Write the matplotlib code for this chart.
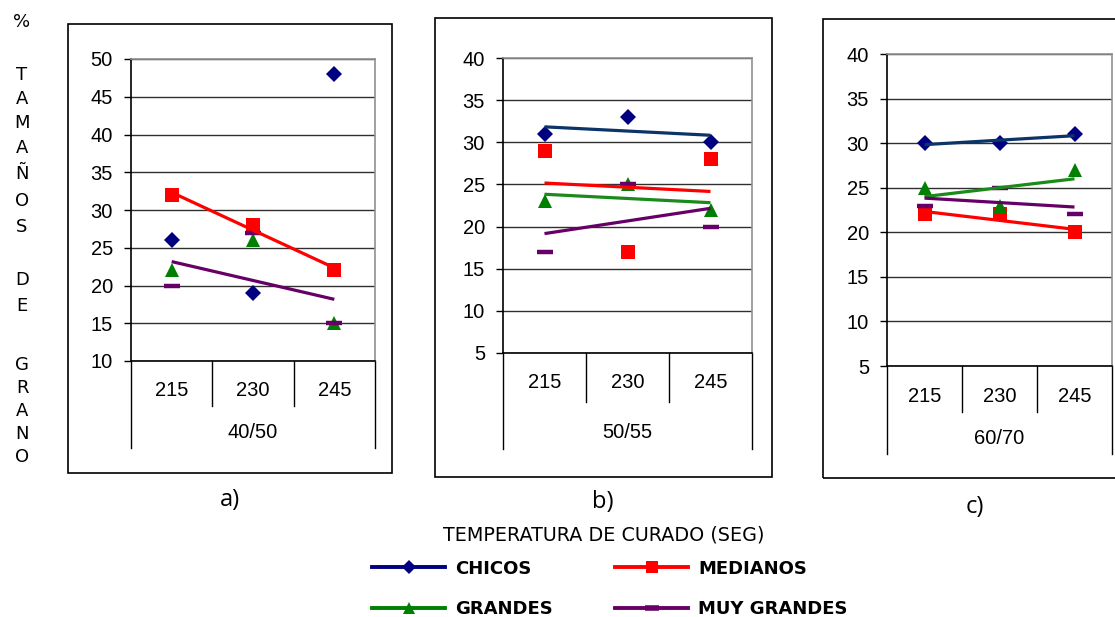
import numpy as np
import matplotlib
matplotlib.use("Agg")
import matplotlib.pyplot as plt
from matplotlib.lines import Line2D
from matplotlib.patches import Rectangle

# ---------------- data ----------------
categories = ["215", "230", "245"]
groups = ["40/50", "50/55", "60/70"]
series_names = ["CHICOS", "MEDIANOS", "GRANDES", "MUY GRANDES"]

chicos_vals = [[26, 19, 48], [31, 33, 30], [30, 30, 31]]
medianos_vals = [[32, 28, 22], [29, 17, 28], [22, 22, 20]]
grandes_vals = [[22, 26, 15], [23, 25, 22], [25, 23, 27]]
muy_grandes_vals = [[20, 27, 15], [17, 25, 20], [23, 25, 22]]

# which series show a linear trend line in each panel
trend_flags = [[False, True, False, True],
               [True, True, True, True],
               [True, True, True, True]]

y_limits = [(10, 50), (5, 40), (5, 40)]
sub_labels = ["a)", "b)", "c)"]
y_title_letters = ["%", "T", "A", "M", "A", "Ñ", "O", "S", "D", "E", "G", "R", "A", "N", "O"]
x_title = "TEMPERATURA DE CURADO (SEG)"

# ---------------- styles / layout ----------------
y_title_pos = [22, 75, 99, 123, 148, 174, 201, 227, 280, 306, 365, 388, 411, 434, 457]
marker_colors = ["#000080", "#FF0000", "#008000", "#660066"]
trend_colors = ["#0B3468", "#FF0000", "#1A8A1A", "#660066"]
markers = ["D", "s", "^", "_"]
marker_sizes = [8.5, 10, 10, 11]
marker_mews = [0, 0, 0, 3.2]

W, H = 1115, 617
fig = plt.figure(figsize=(W / 100, H / 100), dpi=100)
fig.patch.set_facecolor("white")

layouts = [
    dict(box=(68, 24, 392, 473), plot=(131, 59, 375, 361), lvl1=406, lvl2=448, lab1=391, lab2=433, sub=(230, 500)),
    dict(box=(435, 18, 772, 477), plot=(503, 58, 752, 353), lvl1=402, lvl2=449, lab1=383, lab2=432, sub=(603, 502)),
    dict(box=(823, 19, 1130, 478), plot=(887, 54, 1112, 366), lvl1=412, lvl2=454, lab1=396, lab2=439, sub=(975, 507)),
]

all_vals = [chicos_vals, medianos_vals, grandes_vals, muy_grandes_vals]
x = np.arange(len(categories))
tick_font = dict(family="Liberation Sans", size=14.5)

for p, lay in enumerate(layouts):
    bl, bt, br, bb = lay["box"]
    fig.add_artist(Rectangle((bl / W, 1 - bb / H), (br - bl) / W, (bb - bt) / H,
                             transform=fig.transFigure, fill=False, ec="black", lw=1.2))
    pl, pt, pr, pb = lay["plot"]
    hpx = pb - pt
    ax = fig.add_axes([pl / W, 1 - pb / H, (pr - pl) / W, (pb - pt) / H])
    ax.set_xlim(-0.5, 2.5)
    ymin, ymax = y_limits[p]
    ax.set_ylim(ymin, ymax)
    ax.set_yticks(np.arange(ymin, ymax + 1, 5))
    ax.set_xticks([])
    ax.tick_params(axis="y", direction="out", length=5, width=1, pad=8, labelsize=14.5)
    for lab in ax.get_yticklabels():
        lab.set_fontfamily("Liberation Sans")
    ax.yaxis.grid(True, color="#303030", lw=1)
    ax.set_axisbelow(True)
    ax.spines["left"].set_color("black")
    ax.spines["bottom"].set_color("black")
    ax.spines["top"].set_color("#909090")
    ax.spines["right"].set_color("#909090")
    for s in ax.spines.values():
        s.set_linewidth(1.2)

    trans = ax.get_xaxis_transform()
    y1 = -(lay["lvl1"] - pb) / hpx
    y2 = -(lay["lvl2"] - pb) / hpx
    for xd in [0.5, 1.5]:
        ax.plot([xd, xd], [0, y1], color="black", lw=1, transform=trans, clip_on=False)
    for xd in [-0.5, 2.5]:
        ax.plot([xd, xd], [0, y2], color="black", lw=1, transform=trans, clip_on=False)
    for i, c in enumerate(categories):
        ax.text(i, -(lay["lab1"] - pb) / hpx, c, transform=trans, ha="center", va="center", **tick_font)
    ax.text(1, -(lay["lab2"] - pb) / hpx, groups[p], transform=trans, ha="center", va="center", **tick_font)

    for s in range(4):
        vals = all_vals[s][p]
        ax.plot(x, vals, linestyle="none", marker=markers[s], color=marker_colors[s],
                markersize=marker_sizes[s], markeredgewidth=marker_mews[s], zorder=3 + s * 0.1, clip_on=False)
    for s in range(4):
        if trend_flags[p][s]:
            vals = all_vals[s][p]
            k, b0 = np.polyfit(x, vals, 1)
            ax.plot(x[[0, -1]], k * x[[0, -1]] + b0, color=trend_colors[s], lw=2.3, zorder=4,
                    solid_capstyle="butt")

    sx, sy = lay["sub"]
    fig.text(sx / W, 1 - sy / H, sub_labels[p], ha="center", va="center", fontsize=17, family="Open Sans")

# y title letters
for ch, yp in zip(y_title_letters, y_title_pos):
    fig.text(22 / W, 1 - yp / H, ch, ha="center", va="center", fontsize=13, family="DejaVu Sans")

fig.text(604 / W, 1 - 535 / H, x_title, ha="center", va="center", fontsize=13.8, family="DejaVu Sans")

handles = []
for s in range(4):
    handles.append(Line2D([0], [0], color=marker_colors[s], lw=2.8, marker=markers[s],
                          markersize=[7, 8.5, 8, 10][s], markeredgewidth=[0, 0, 0, 4][s]))
order = [0, 2, 1, 3]
leg = fig.legend([handles[i] for i in order], [series_names[i] for i in order], ncol=2,
                 loc="center left", bbox_to_anchor=(372 / W, 1 - 589 / H), frameon=False,
                 prop=dict(family="DejaVu Sans", weight="bold", size=13),
                 handlelength=4.05, handletextpad=0.55, columnspacing=3.45, labelspacing=1.25,
                 borderpad=0, borderaxespad=0)

fig.savefig("out.png", dpi=100, facecolor="white")
